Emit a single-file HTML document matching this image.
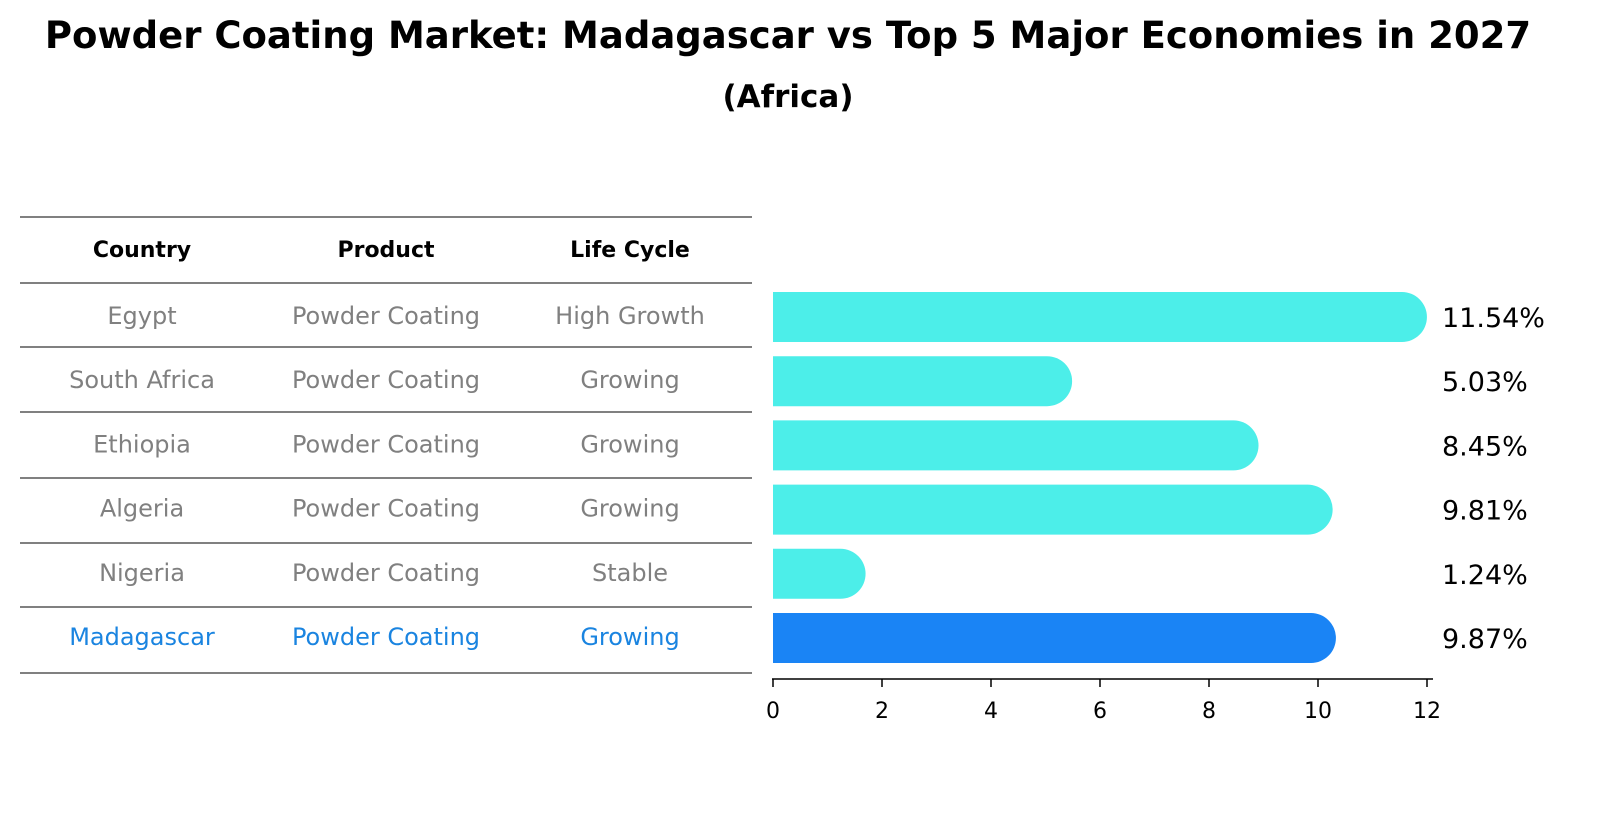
<!DOCTYPE html>
<html><head><meta charset="utf-8"><style>
body{margin:0;background:#fff;font-family:"Liberation Sans","DejaVu Sans",sans-serif}
svg text{font-family:"DejaVu Sans","Liberation Sans",sans-serif}
</style></head><body>
<svg id="c" width="1607" height="823" xmlns="http://www.w3.org/2000/svg">
<text x="788" y="48" text-anchor="middle" font-size="37" font-weight="bold">Powder Coating Market: Madagascar vs Top 5 Major Economies in 2027</text>
<text x="788" y="107" text-anchor="middle" font-size="31" font-weight="bold">(Africa)</text>
<g id="table"></g>
<g id="bars"></g>
</svg>
<script>
const countries=["Egypt","South Africa","Ethiopia","Algeria","Nigeria","Madagascar"];
const products=["Powder Coating","Powder Coating","Powder Coating","Powder Coating","Powder Coating","Powder Coating"];
const lifecycle=["High Growth","Growing","Growing","Growing","Stable","Growing"];
const values=[11.54,5.03,8.45,9.81,1.24,9.87];
const ticks=[0,2,4,6,8,10,12];
const NS="http://www.w3.org/2000/svg";
function mk(t,a,p){const e=document.createElementNS(NS,t);for(const k in a)e.setAttribute(k,a[k]);p.appendChild(e);return e;}
const tb=document.getElementById('table'),bg=document.getElementById('bars');
const rowY=i=>317+i*64.2;
const xs=v=>773+v*54.5;
const lineYs=[217,283,347,412,478,543,607,673];
lineYs.forEach(y=>{const l=mk('line',{x1:20,x2:752,y1:y,y2:y,stroke:'#000','stroke-width':1},tb);

});
const cx=[142,386,630];
["Country","Product","Life Cycle"].forEach((h,j)=>{const t=mk('text',{x:cx[j],y:257,'text-anchor':'middle','font-size':22,'font-weight':'bold'},tb);t.textContent=h;

});
countries.forEach((c,i)=>{
 const col=i===countries.length-1?'#1a84e0':'#808080';
 [c,products[i],lifecycle[i]].forEach((s,j)=>{const t=mk('text',{x:cx[j],y:rowY(i)+7,'text-anchor':'middle','font-size':24,fill:col},tb);t.textContent=s;
 
 });
 const fill=i===countries.length-1?'#1a84f5':'#4ceee9';
 const y=rowY(i),h=50,r=25;
 const p=mk('path',{d:`M${xs(0)},${y-h/2} H${xs(values[i])} A${r},${r} 0 0 1 ${xs(values[i])},${y+h/2} H${xs(0)} Z`,fill:fill},bg);
 
 
 const t=mk('text',{x:1442,y:y+10,'font-size':27},bg);t.textContent=values[i].toFixed(2)+'%';
 
 
});
const ax=mk('line',{x1:772,x2:1433,y1:679,y2:679,stroke:'#000','stroke-width':1.5},bg);


ticks.forEach(v=>{const l=mk('line',{x1:xs(v),x2:xs(v),y1:679,y2:687,stroke:'#000','stroke-width':1.5},bg);


const t=mk('text',{x:xs(v),y:718,'text-anchor':'middle','font-size':22},bg);t.textContent=v;

});
</script>
</body></html>
